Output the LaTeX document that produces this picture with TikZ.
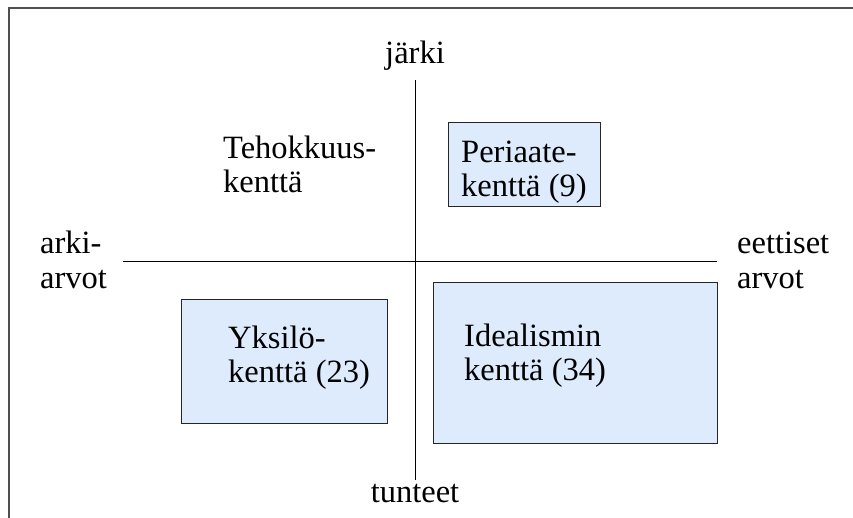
\documentclass[tikz,border=0pt]{standalone}
\usepackage{fontspec}
\setmainfont{Liberation Serif}
\definecolor{fieldblue}{HTML}{DDEBFD}
\definecolor{framegray}{HTML}{505050}
\begin{document}
\begin{tikzpicture}[x=1pt,y=-1pt,
  lbl/.style={font=\fontsize{32.5}{34}\selectfont, inner sep=0pt, align=left, anchor=base west},
  field/.style={draw=black!85, fill=fieldblue, line width=1pt, inner sep=0pt},
  axis/.style={draw=black, line width=1pt}]
\useasboundingbox (0,0) rectangle (853,518);

% frame along the top and left edges
\draw[line width=2pt, framegray] (8.5,518) -- (8.5,8.5) -- (853,8.5);

% shaded fields
\node[field, minimum width=152pt, minimum height=84pt] (periaate) at (524,165) {};
\node[field, minimum width=206pt, minimum height=123pt] (yksilo) at (284,361.5) {};
\node[field, minimum width=284pt, minimum height=160pt] (idealismi) at (575,363) {};

% axes
\coordinate (ytop) at (415,80);
\coordinate (ybot) at (415,480);
\coordinate (xleft) at (123,262);
\coordinate (xright) at (717,262);
\draw[axis] (ytop) -- (ybot);
\draw[axis] (xleft) -- (xright);

% axis labels (multi-line labels are placed by the baseline of their last line)
\node[lbl, anchor=base] (jarki) at (415,64) {järki};
\node[lbl, anchor=base] (tunteet) at (415,502) {tunteet};
\node[lbl] (arki) at (40,288) {arki-\\arvot};
\node[lbl] (eettiset) at (737,288) {eettiset\\arvot};

% field labels
\node[lbl] (tehokkuus) at (223,193) {Tehokkuus-\\kenttä};
\node[lbl] (periaateteksti) at (461,197) {Periaate-\\kenttä (9)};
\node[lbl] (yksiloteksti) at (228,382) {Yksilö-\\kenttä (23)};
\node[lbl] (idealismiteksti) at (464,380) {Idealismin\\kenttä (34)};
\end{tikzpicture}
\end{document}
